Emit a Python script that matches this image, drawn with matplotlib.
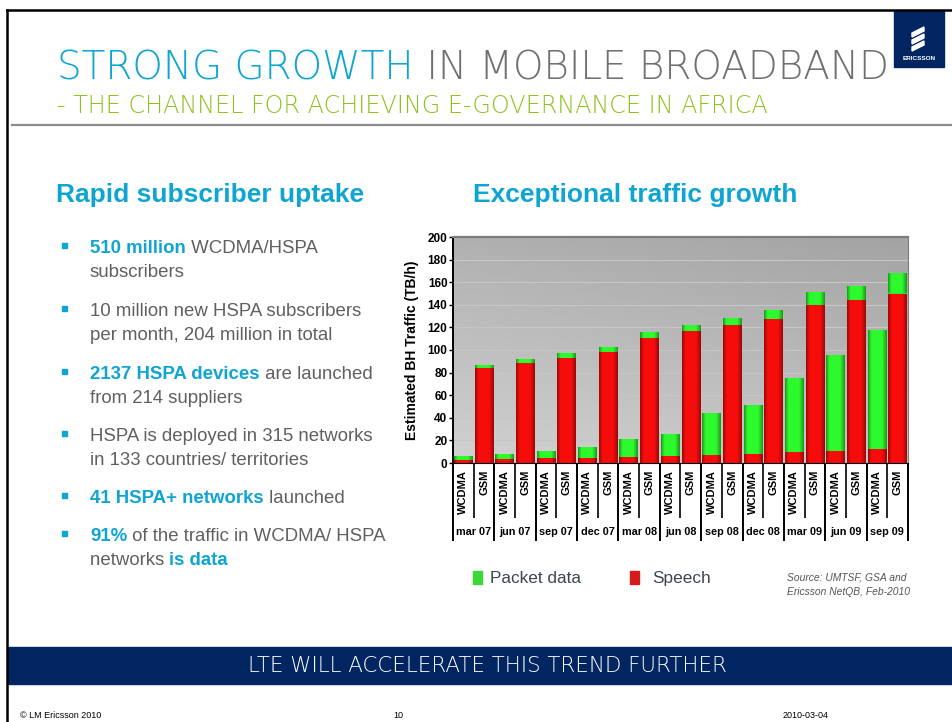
import numpy as np
import matplotlib.pyplot as plt
from matplotlib.patches import Rectangle, Polygon

# chart data (TB/h)
periods = ['mar 07', 'jun 07', 'sep 07', 'dec 07', 'mar 08', 'jun 08',
           'sep 08', 'dec 08', 'mar 09', 'jun 09', 'sep 09']
techs = ['WCDMA', 'GSM']
speech_wcdma = [3, 3.5, 4.5, 4.5, 5.5, 6.5, 7.5, 8, 10, 11, 12]
packet_wcdma = [3, 4.5, 6, 9.5, 16, 19.5, 37, 43, 65, 85, 106]
speech_gsm = [84, 88.5, 93, 98.5, 110.5, 116.5, 122, 127, 140, 144.5, 150]
packet_gsm = [2.5, 3.5, 4, 4, 5.5, 5.5, 6, 8, 11, 12.5, 18]
yticks = [0, 20, 40, 60, 80, 100, 120, 140, 160, 180, 200]

bullets = [
    [[('510 million', True), (' WCDMA/HSPA', False)], [('subscribers', False)]],
    [[('10 million new HSPA subscribers', False)], [('per month, 204 million in total', False)]],
    [[('2137 HSPA devices', True), (' are launched', False)], [('from 214 suppliers', False)]],
    [[('HSPA is deployed in 315 networks', False)], [('in 133 countries/ territories', False)]],
    [[('41 HSPA+ networks', True), (' launched', False)]],
    [[('91%', True), (' of the traffic in WCDMA/ HSPA', False)], [('networks ', False), ('is data', True)]],
]

CYAN = '#0ea5d3'
GRAY = '#606060'
NAVY = '#002561'
GREEN_T = '#8dc21f'
SANS = ['Liberation Sans', 'DejaVu Sans']
NARROW = ['Liberation Sans Narrow', 'Liberation Sans', 'DejaVu Sans']

fig = plt.figure(figsize=(9.53, 7.22), dpi=100)

# full-figure overlay in pixel coordinates for the slide decoration
ax0 = fig.add_axes([0, 0, 1, 1])
ax0.set_xlim(0, 953)
ax0.set_ylim(722, 0)
ax0.axis('off')

# frame lines
ax0.plot([7, 953], [10, 10], color='black', lw=1.8)
ax0.plot([7, 7], [10, 722], color='black', lw=1.8)
ax0.plot([12, 953], [125, 125], color='#8c8c8c', lw=1.6)

# logo
ax0.add_patch(Rectangle((894, 11), 50, 56, color=NAVY))
for dy in [0, 7, 14]:
    ax0.add_patch(Polygon([(912, 33 + dy), (924, 27 + dy), (924, 31 + dy), (912, 37 + dy)],
                          closed=True, color='white'))
ax0.text(919, 58, 'ERICSSON', color='white', fontsize=4.6, fontweight='bold',
         family=SANS, ha='center', va='center')

# titles
t = ax0.text(57, 80, 'STRONG GROWTH', color=CYAN, fontsize=28, fontweight='light',
             family=['DejaVu Sans'], ha='left', va='baseline')
ax0.annotate(' IN MOBILE BROADBAND', xy=(1, 0), xycoords=t, color='#707070', fontsize=28,
             fontweight='light', family=['DejaVu Sans'], ha='left', va='bottom')
ax0.text(57, 113, '- THE CHANNEL FOR ACHIEVING E-GOVERNANCE IN AFRICA', color=GREEN_T,
         fontsize=17.2, fontweight='light', family=['DejaVu Sans'], ha='left', va='baseline')

ax0.text(56, 202, 'Rapid subscriber uptake', color=CYAN, fontsize=19, fontweight='bold',
         family=SANS, ha='left', va='baseline')
ax0.text(473, 202, 'Exceptional traffic growth', color=CYAN, fontsize=19, fontweight='bold',
         family=SANS, ha='left', va='baseline')


def rich_line(x, y, parts, size=13.4):
    prev = None
    for txt, bold in parts:
        kw = dict(fontsize=size, fontweight='bold' if bold else 'normal',
                  color=CYAN if bold else GRAY, family=SANS, ha='left')
        if prev is None:
            prev = ax0.text(x, y, txt, va='baseline', **kw)
        else:
            prev = ax0.annotate(txt, xy=(1, 0), xycoords=prev, va='bottom', **kw)


bullet_y = [253, 316, 379, 441, 503, 541]
for by, item in zip(bullet_y, bullets):
    ax0.add_patch(Rectangle((62, by - 10), 5, 5, color=CYAN))
    for j, line in enumerate(item):
        rich_line(90, by + 24 * j, line)

# legend + source
ax0.add_patch(Rectangle((473, 571), 9, 13, color='#3ad63a'))
ax0.text(490, 583, 'Packet data', color='#3c4650', fontsize=12.4, family=SANS, va='baseline')
ax0.add_patch(Rectangle((630, 571), 9, 13, color='#d41a1a'))
ax0.text(652, 583, 'Speech', color='#3c4650', fontsize=12.4, family=SANS, va='baseline')
ax0.text(787, 581, 'Source: UMTSF, GSA and', color='#555555', fontsize=7.4, style='italic',
         family=SANS, va='baseline')
ax0.text(787, 595, 'Ericsson NetQB, Feb-2010', color='#555555', fontsize=7.4, style='italic',
         family=SANS, va='baseline')

# banner + footer
ax0.add_patch(Rectangle((8, 647), 945, 37, color=NAVY))
ax0.text(487, 666, 'LTE WILL ACCELERATE THIS TREND FURTHER', color='white', fontsize=15.4,
         fontweight='light', family=['DejaVu Sans'], ha='center', va='center')
ax0.text(20, 718, '\u00a9 LM Ericsson 2010', fontsize=6.5, family=SANS, va='baseline')
ax0.text(393, 718, '10', fontsize=6.5, family=SANS, va='baseline')
ax0.text(783, 718, '2010-03-04', fontsize=6.5, family=SANS, va='baseline')

# ---- the chart
ax = fig.add_axes([453 / 953, 1 - 463 / 722, 455 / 953, 226 / 722])
speech = [v for pair in zip(speech_wcdma, speech_gsm) for v in pair]
packet = [v for pair in zip(packet_wcdma, packet_gsm) for v in pair]
labels = techs * len(periods)
x = np.arange(len(speech))

# grey gradient background
yy, xx = np.mgrid[0:1:100j, 0:1:100j]
bg = 0.64 + 0.13 * yy + 0.05 * (1 - xx)
ax.imshow(bg, cmap='gray', vmin=0, vmax=1, extent=[0, 1, 0, 1], transform=ax.transAxes,
          aspect='auto', zorder=0, interpolation='bilinear')

red_bars = ax.bar(x, speech, width=0.9, color='#ee1111', zorder=2)
green_bars = ax.bar(x, packet, bottom=speech, width=0.9, color='#22ee22', zorder=2)

# cylinder-like shading inside each bar
tt = np.linspace(0, 1, 40)
shade = 0.62 + 0.38 * np.clip(np.minimum(tt / 0.18, (1 - tt) / 0.25), 0, 1)
for bars, rgb in [(red_bars, (0.97, 0.05, 0.05)), (green_bars, (0.18, 0.98, 0.18))]:
    img = np.array(rgb)[None, None, :] * shade[None, :, None]
    for p in bars:
        im = ax.imshow(img, extent=[p.get_x(), p.get_x() + p.get_width(), p.get_y(),
                                    p.get_y() + p.get_height()],
                       aspect='auto', zorder=2.5, interpolation='bilinear')
        im.set_clip_path(p)

ax.set_xlim(-0.5, len(x) - 0.5)
ax.set_ylim(0, 200)
ax.set_yticks(yticks)
ax.set_yticklabels([str(v) for v in yticks], fontsize=8.5, fontweight='bold', family=NARROW)
ax.yaxis.grid(True, color='#c6c6c6', lw=0.8, zorder=1)
ax.set_axisbelow(True)
ax.tick_params(axis='y', length=3, width=1, pad=1)
ax.set_ylabel('Estimated BH Traffic (TB/h)', fontsize=10, fontweight='bold', family=NARROW,
              labelpad=6)

ax.set_xticks(x)
ax.set_xticklabels(labels, rotation=90, fontsize=8, fontweight='bold', family=SANS)
ax.tick_params(axis='x', length=0, pad=5)

for s in ['top', 'right']:
    ax.spines[s].set_color('#7d7d7d')
ax.spines['top'].set_linewidth(1.6)
ax.spines['left'].set_linewidth(1.4)
ax.spines['bottom'].set_linewidth(0.8)

# category table lines and period labels
xt = ax.get_xaxis_transform()
inner = np.arange(len(periods)) * 2 + 0.5
outer = np.arange(len(periods) + 1) * 2 - 0.5
ax.vlines(inner, -0.245, 0, transform=xt, clip_on=False, colors='black', lw=1.2)
ax.vlines(outer, -0.345, 0, transform=xt, clip_on=False, colors='black', lw=1.4)
for k, p in enumerate(periods):
    ax.text(2 * k + 0.5, -0.305, p, transform=xt, ha='center', va='center', fontsize=7.8,
            fontweight='bold', family=NARROW)

plt.savefig('out.png', dpi=100)
